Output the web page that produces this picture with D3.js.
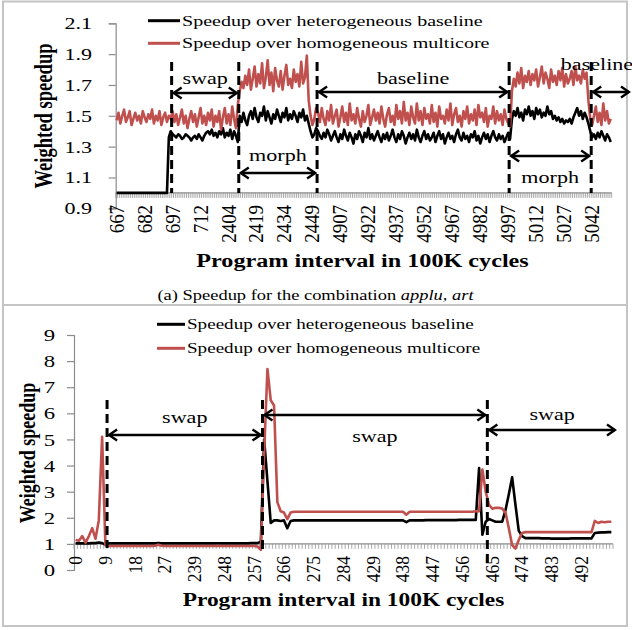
<!DOCTYPE html>
<html>
<head>
<meta charset="utf-8">
<script src="https://cdn.jsdelivr.net/npm/d3@7"></script>
<style>
  html, body { margin: 0; padding: 0; background: #fff; }
  svg { display: block; }
  text { font-family: "Liberation Serif", "Times New Roman", serif; fill: #000; }
</style>
</head>
<body>
<svg id="fig" width="632" height="630"></svg>
<script>
// ---------- (a) applu, art ----------
// program intervals sampled: [first interval, count] for each contiguous run
const topRuns = [[667, 60], [2404, 60], [4907, 146]];
const topTickLabels = ["667","682","697","712","2404","2419","2434","2449","4907","4922",
                       "4937","4952","4967","4982","4997","5012","5027","5042"];
const topYTicks = [0.9, 1.1, 1.3, 1.5, 1.7, 1.9, 2.1];

// Speedup over heterogeneous baseline
const topHetero = [
  1.00,1.00,1.00,1.00,1.00,1.00,1.00,1.00,1.00,1.00,
  1.00,1.00,1.00,1.00,1.00,1.00,1.00,1.00,1.00,1.00,
  1.00,1.00,1.00,1.00,1.00,1.00,1.00,1.00,
  1.36,1.40,1.38,1.37,1.36,1.38,1.37,1.35,1.36,1.38,
  1.37,1.36,1.34,1.36,1.37,1.35,1.38,1.36,1.34,1.37,
  1.39,1.40,1.38,1.41,1.37,1.39,1.36,1.40,1.38,1.42,
  1.36,1.39,1.37,1.41,1.35,1.40,1.37,1.33,
  1.50,1.46,1.52,1.47,1.44,1.50,1.53,1.48,1.55,1.49,
  1.46,1.52,1.50,1.56,1.47,1.53,1.49,1.45,1.51,1.48,
  1.54,1.50,1.46,1.52,1.49,1.55,1.47,1.51,1.48,1.53,
  1.50,1.46,1.52,1.49,1.54,1.47,1.50,1.45,1.40,1.36,
  1.38,1.42,
  1.40,1.37,1.35,1.39,1.36,1.41,1.38,1.34,1.37,1.40,
  1.36,1.33,1.38,1.35,1.41,1.37,1.34,1.39,1.36,1.32,
  1.38,1.35,1.40,1.37,1.33,1.39,1.36,1.42,1.35,1.38,
  1.34,1.37,1.40,1.36,1.33,1.38,1.35,1.39,1.34,1.37,
  1.41,1.36,1.33,1.38,1.35,1.40,1.37,1.32,1.36,1.39,
  1.35,1.38,1.34,1.41,1.36,1.33,1.37,1.40,1.35,1.38,
  1.34,1.36,1.39,1.33,1.37,1.40,1.35,1.38,1.32,1.36,
  1.39,1.35,1.37,1.33,1.38,1.41,1.36,1.34,1.39,1.35,
  1.37,1.33,1.38,1.36,1.40,1.34,1.37,1.32,1.36,1.39,
  1.35,1.38,1.33,1.37,1.40,1.36,1.34,1.38,1.35,1.37,
  1.33,1.36,1.39,1.35,
  1.48,1.53,1.50,1.55,1.49,1.52,1.47,1.54,1.51,1.56,
  1.50,1.53,1.48,1.55,1.51,1.54,1.49,1.52,1.50,1.56,
  1.51,1.53,1.48,1.50,1.47,1.49,1.46,1.48,1.45,1.47,
  1.46,1.48,1.45,1.49,1.52,1.55,1.50,1.53,1.48,1.52,
  1.49,1.45,1.40,1.36,1.38,
  1.35,1.39,1.36,1.40,1.37,1.34,1.38,1.36,1.33
];

// Speedup over homogeneous multicore
const topHomo = [
  1.47,1.52,1.45,1.50,1.54,1.46,1.49,1.53,1.44,1.48,
  1.52,1.47,1.50,1.45,1.53,1.49,1.46,1.51,1.48,1.54,
  1.45,1.50,1.47,1.53,1.44,1.49,1.52,1.46,1.50,1.48,
  1.53,1.46,1.51,1.44,1.49,1.54,1.45,1.50,1.42,1.48,
  1.53,1.46,1.51,1.43,1.49,1.55,1.45,1.50,1.44,1.52,
  1.47,1.54,1.43,1.50,1.46,1.53,1.41,1.49,1.55,1.45,
  1.51,1.44,1.56,1.48,1.42,1.57,
  1.66,1.72,1.68,1.76,1.70,1.80,1.67,1.74,1.82,1.69,
  1.77,1.71,1.84,1.68,1.75,1.86,1.70,1.78,1.66,1.81,
  1.73,1.69,1.79,1.67,1.76,1.83,1.70,1.74,1.68,1.80,
  1.72,1.77,1.69,1.85,1.71,1.75,1.89,1.60,1.50,1.44,
  1.48,1.55,
  1.52,1.46,1.55,1.48,1.44,1.53,1.47,1.57,1.45,1.50,
  1.54,1.43,1.49,1.56,1.46,1.52,1.44,1.58,1.47,1.51,
  1.45,1.55,1.48,1.43,1.53,1.46,1.50,1.57,1.44,1.49,
  1.54,1.47,1.52,1.45,1.56,1.48,1.43,1.51,1.55,1.46,
  1.50,1.44,1.57,1.48,1.53,1.45,1.59,1.47,1.52,1.44,
  1.56,1.49,1.45,1.58,1.47,1.53,1.44,1.55,1.48,1.51,
  1.45,1.57,1.46,1.52,1.43,1.56,1.48,1.50,1.45,1.54,
  1.47,1.58,1.44,1.51,1.55,1.46,1.50,1.43,1.53,1.48,
  1.56,1.45,1.51,1.47,1.54,1.44,1.57,1.49,1.52,1.46,
  1.55,1.43,1.50,1.48,1.56,1.45,1.53,1.47,1.51,1.44,
  1.54,1.48,1.45,1.43,
  1.66,1.74,1.69,1.78,1.71,1.81,1.68,1.76,1.72,1.79,
  1.70,1.77,1.73,1.80,1.69,1.75,1.82,1.71,1.78,1.74,
  1.68,1.80,1.72,1.76,1.70,1.79,1.73,1.81,1.69,1.77,
  1.71,1.74,1.79,1.70,1.82,1.73,1.76,1.71,1.80,1.74,
  1.78,1.60,1.48,1.44,1.50,
  1.56,1.46,1.52,1.44,1.58,1.47,1.53,1.45,1.48
];

// phase spans (interval where each phase starts / ends)
const topPhases = [
  { name: "swap",     from: 697,  to: 2410 },
  { name: "morph",    from: 2410, to: 2452 },
  { name: "baseline", from: 2452, to: 4998 },
  { name: "morph",    from: 4998, to: 5042 },
  { name: "baseline", from: 5042, to: null }
];
const topBoundaries = [697, 2410, 2452, 4998, 5042];

// ---------- (b) second combination ----------
const botRuns = [[0, 36], [239, 54], [429, 73]];
const botTickLabels = ["0","9","18","27","239","248","257","266","275","284",
                       "429","438","447","456","465","474","483","492"];
const botYTicks = [0, 1, 2, 3, 4, 5, 6, 7, 8, 9];

const botHetero = [
  1.02,1.02,1.02,1.02,1.02,1.03,1.03,1.05,1.03,0.97,
  1.02,1.02,1.02,1.02,1.02,1.02,1.02,1.02,1.02,1.02,
  1.02,1.02,1.02,1.02,1.02,1.03,1.02,1.02,1.02,1.02,
  1.02,1.02,1.02,1.02,1.02,1.02,
  1.02,1.02,1.02,1.02,1.02,1.02,1.02,1.02,1.02,1.02,
  1.02,1.02,1.02,1.02,1.02,1.02,1.02,1.03,1.03,1.03,
  1.08,5.00,3.40,1.80,1.90,1.90,1.88,1.90,1.60,1.88,
  1.90,1.90,1.90,1.90,1.90,1.90,1.90,1.90,1.90,1.90,
  1.90,1.90,1.90,1.90,1.90,1.90,1.90,1.90,1.90,1.90,
  1.90,1.90,1.90,1.90,
  1.90,1.90,1.90,1.90,1.90,1.90,1.90,1.90,1.90,1.90,
  1.83,1.90,1.90,1.90,1.90,1.90,1.91,1.91,1.91,1.91,
  1.91,1.91,1.91,1.91,1.91,1.91,1.92,1.92,1.92,1.92,
  1.92,1.92,
  3.90,1.35,1.85,1.95,1.90,1.85,1.85,1.85,2.30,2.90,
  3.55,2.50,1.50,1.30,
  1.22,1.22,1.22,1.22,1.22,1.21,1.21,1.21,1.20,1.20,
  1.20,1.20,1.20,1.20,1.21,1.21,1.21,1.21,1.21,1.21,
  1.21,
  1.42,1.43,1.44,1.44,1.45,1.45
];

const botHomo = [
  1.15,1.12,1.30,1.05,1.30,1.60,1.20,1.90,5.10,0.95,
  0.92,0.92,0.92,0.92,0.92,0.92,0.92,0.92,0.92,0.92,
  0.92,0.92,0.92,0.92,0.93,0.97,0.93,0.92,0.92,0.92,
  0.92,0.92,0.92,0.92,0.92,0.92,
  0.92,0.92,0.92,0.92,0.92,0.92,0.92,0.93,0.92,0.92,
  0.92,0.92,0.92,0.92,0.92,0.92,0.92,0.92,0.92,0.90,
  0.77,4.50,7.70,6.50,6.30,2.60,2.25,2.20,1.95,2.20,
  2.23,2.23,2.23,2.23,2.23,2.23,2.23,2.23,2.23,2.23,
  2.23,2.23,2.23,2.23,2.23,2.23,2.23,2.23,2.23,2.23,
  2.23,2.23,2.23,2.23,
  2.23,2.23,2.23,2.23,2.23,2.23,2.23,2.23,2.23,2.23,
  2.12,2.23,2.23,2.23,2.23,2.23,2.23,2.23,2.23,2.23,
  2.23,2.23,2.23,2.23,2.23,2.23,2.23,2.23,2.23,2.23,
  2.23,2.25,
  2.25,3.85,3.00,2.50,2.35,2.38,2.38,2.35,2.20,1.60,
  0.95,0.82,1.15,1.42,
  1.45,1.45,1.45,1.45,1.45,1.45,1.45,1.45,1.45,1.45,
  1.45,1.45,1.45,1.45,1.45,1.45,1.45,1.45,1.45,1.45,
  1.45,
  1.88,1.80,1.85,1.83,1.85,1.85
];

const botPhases = [
  { name: "swap", from: 10,  to: 260 },
  { name: "swap", from: 260, to: 464 },
  { name: "swap", from: 464, to: null }
];
const botBoundaries = [10, 260, 464];

const legendNames = ["Speedup over heterogeneous baseline", "Speedup over homogeneous multicore"];
const seriesColors = ["#000000", "#c0504d"];

// ---------- drawing ----------
const SX = 1.3;   // horizontal stretch applied to upright text
const svg = d3.select("#fig");

function txt(g, x, y, str, o = {}) {
  const sx = o.sx !== undefined ? o.sx : SX;
  const t = g.append("text")
    .attr("transform", `translate(${x},${y}) scale(${sx},1)` + (o.rotate ? ` rotate(${o.rotate})` : ""))
    .attr("font-size", o.size || 16)
    .attr("text-anchor", o.anchor || "middle");
  if (o.bold) t.attr("font-weight", "bold");
  if (o.dy) t.attr("dy", o.dy);
  t.text(str);
  return t;
}

const defs = svg.append("defs");
["arrowEnd", "arrowStart"].forEach((id, k) => {
  defs.append("marker")
    .attr("id", id)
    .attr("viewBox", "-10 -7 12 14")
    .attr("refX", 0).attr("refY", 0)
    .attr("markerWidth", 12).attr("markerHeight", 14)
    .attr("markerUnits", "userSpaceOnUse")
    .attr("orient", k === 0 ? "auto" : "auto-start-reverse")
    .append("path")
    .attr("d", "M-8,-5.5 L0,0 L-8,5.5")
    .attr("fill", "none").attr("stroke", "#000").attr("stroke-width", 2.4)
    .attr("stroke-linejoin", "miter");
});

function drawChart(cfg) {
  const g = svg.append("g");
  const cats = [];
  cfg.runs.forEach(([start, n]) => { for (let k = 0; k < n; k++) cats.push(start + k); });

  const x = d3.scaleBand().domain(cats).range([cfg.x0, cfg.x1]).paddingInner(0).paddingOuter(0);
  const bw = x.bandwidth();
  const y = d3.scaleLinear().domain(cfg.yDomain).range([cfg.yBottom, cfg.yTop]);
  const axisY = y(cfg.crossAt);

  // vertical axis
  const yAxis = d3.axisLeft(y).tickValues(cfg.yTicks).tickSize(7).tickFormat("");
  const ya = g.append("g").attr("transform", `translate(${cfg.x0},0)`).call(yAxis);
  ya.select(".domain").attr("stroke", "#8c8c8c").attr("stroke-width", 1.2);
  ya.selectAll(".tick line").attr("stroke", "#8c8c8c").attr("stroke-width", 1.2);
  cfg.yTicks.forEach(v => txt(g, cfg.yLabelX, y(v), cfg.yFmt(v), { size: cfg.yTickSize, anchor: "end", dy: "0.35em" }));

  // horizontal category axis: a tick at each category edge
  const edges = cats.map(c => x(c)).concat([cfg.x1]);
  g.append("g").selectAll("line").data(edges).join("line")
    .attr("x1", d => d).attr("x2", d => d)
    .attr("y1", axisY).attr("y2", axisY + 5)
    .attr("stroke", "#a0a0a0").attr("stroke-width", 0.9);
  g.append("line").attr("x1", cfg.x0).attr("x2", cfg.x1).attr("y1", axisY).attr("y2", axisY)
    .attr("stroke", "#8c8c8c").attr("stroke-width", 1.2);

  cfg.tickLabels.forEach(l => {
    txt(g, x(+l) + bw / 2, axisY + cfg.xLabelGap, l,
        { size: cfg.xTickSize, sx: cfg.xTickSX, anchor: "end", rotate: -90, dy: "0.35em" });
  });

  // series
  const line = d3.line().x((d, i) => x(cats[i]) + bw / 2).y(d => y(d)).curve(d3.curveLinear);
  cfg.series.forEach((s, k) => {
    g.append("path").datum(s)
      .attr("d", line)
      .attr("fill", "none")
      .attr("stroke", seriesColors[k])
      .attr("stroke-width", cfg.lineWidth)
      .attr("stroke-linejoin", "round");
  });

  // phase boundaries
  cfg.boundaries.forEach((b, i) => {
    g.append("line")
      .attr("x1", x(b)).attr("x2", x(b))
      .attr("y1", cfg.dashTop).attr("y2", cfg.dashBottom[i])
      .attr("stroke", "#000").attr("stroke-width", 3).attr("stroke-dasharray", "9,5");
  });

  // phase arrows and names
  cfg.phases.forEach((p, i) => {
    const L = cfg.phaseLayout[i];
    const xa = x(p.from) + 2;
    const xb = p.to === null ? L.xEnd : x(p.to) - 2;
    g.append("line")
      .attr("x1", xa).attr("x2", xb).attr("y1", L.arrowY).attr("y2", L.arrowY)
      .attr("stroke", "#000").attr("stroke-width", 2.4)
      .attr("marker-start", "url(#arrowStart)").attr("marker-end", "url(#arrowEnd)");
    txt(g, L.textX !== undefined ? L.textX : (xa + xb) / 2, L.textY, p.name, { size: cfg.noteSize });
  });

  // legend
  legendNames.forEach((name, k) => {
    const ly = cfg.legendY[k];
    g.append("line").attr("x1", cfg.legendX0).attr("x2", cfg.legendX1).attr("y1", ly).attr("y2", ly)
      .attr("stroke", seriesColors[k]).attr("stroke-width", 3);
    txt(g, cfg.legendX1 + 2, ly, name, { size: cfg.legendSize, anchor: "start", dy: "0.32em" });
  });

  // axis titles
  txt(g, cfg.yTitle[0], cfg.yTitle[1], "Weighted speedup", { size: cfg.titleSize, bold: true, rotate: -90, dy: "0.35em" });
  txt(g, cfg.xTitle[0], cfg.xTitle[1], "Program interval in 100K cycles", { size: cfg.titleSize, bold: true });
}

// figure frame
svg.append("rect").attr("x", 3).attr("y", 1.5).attr("width", 624).attr("height", 624.5)
  .attr("fill", "none").attr("stroke", "#c4c4c4").attr("stroke-width", 2);
svg.append("line").attr("x1", 3).attr("x2", 627).attr("y1", 305).attr("y2", 305)
  .attr("stroke", "#c4c4c4").attr("stroke-width", 2);

drawChart({
  runs: topRuns, series: [topHetero, topHomo],
  x0: 115.7, x1: 611.7, yTop: 23.3, yBottom: 208.3, yDomain: [0.9, 2.1], crossAt: 1.0,
  yTicks: topYTicks, yFmt: d3.format(".1f"), yLabelX: 92, yTickSize: 17,
  tickLabels: topTickLabels, xTickSize: 19, xTickSX: 1.05, xLabelGap: 12,
  lineWidth: 2.6,
  boundaries: topBoundaries, dashTop: 62, dashBottom: [193, 193, 193, 193, 193],
  phases: topPhases,
  phaseLayout: [
    { arrowY: 93,  textY: 84 },
    { arrowY: 173, textY: 161 },
    { arrowY: 92,  textY: 84 },
    { arrowY: 156, textY: 183 },
    { arrowY: 92,  textY: 70, xEnd: 629, textX: 597 }
  ],
  noteSize: 17,
  legendX0: 148, legendX1: 180, legendY: [20.7, 43.3], legendSize: 15.4,
  titleSize: 18.6, yTitle: [44, 116], xTitle: [362.5, 267]
});

// caption of the first chart
const cap = svg.append("text")
  .attr("transform", `translate(315.5,300) scale(${SX},1)`)
  .attr("font-size", 14.2).attr("text-anchor", "middle");
cap.append("tspan").text("(a) Speedup for the combination ");
cap.append("tspan").attr("font-style", "italic").text("applu, art");

drawChart({
  runs: botRuns, series: [botHetero, botHomo],
  x0: 74, x1: 613, yTop: 335, yBottom: 570, yDomain: [0, 9], crossAt: 1,
  yTicks: botYTicks, yFmt: d3.format("d"), yLabelX: 55, yTickSize: 17.5,
  tickLabels: botTickLabels, xTickSize: 17.5, xTickSX: 1.05, xLabelGap: 12,
  lineWidth: 2.6,
  boundaries: botBoundaries, dashTop: 400, dashBottom: [548, 550, 566],
  phases: botPhases,
  phaseLayout: [
    { arrowY: 435, textY: 423 },
    { arrowY: 415, textY: 442 },
    { arrowY: 430, textY: 420, xEnd: 615 }
  ],
  noteSize: 17,
  legendX0: 157, legendX1: 185, legendY: [324.3, 348.3], legendSize: 14.7,
  titleSize: 18, yTitle: [27, 453], xTitle: [343.5, 606]
});
</script>
</body>
</html>
